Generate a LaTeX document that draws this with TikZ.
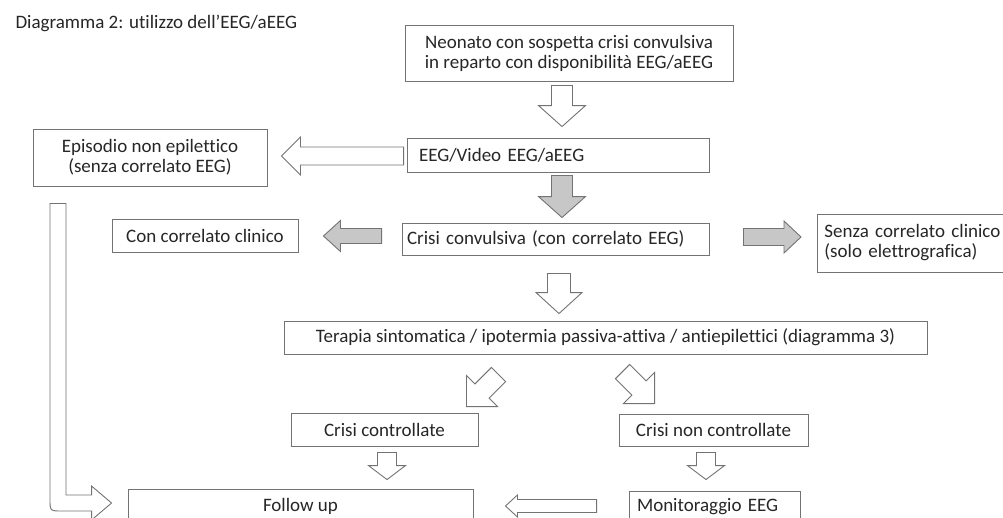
\documentclass[tikz,border=0pt]{standalone}
\usepackage{fontspec}
\setmainfont{Carlito}[Ligatures=NoCommon]
\usepackage{tikz}
\usetikzlibrary{calc,positioning}

% block arrow: style, from, to, half shaft, half head, head length
\newcommand{\blockarrow}[6]{%
  \coordinate (hb) at ($(#3)!#6!(#2)$);
  \draw [arrowline,#1] ($(#2)!#4!90:(#3)$) -- ($(hb)!#4!90:(#3)$) -- ($(hb)!#5!90:(#3)$)
    -- (#3) -- ($(hb)!#5!-90:(#3)$) -- ($(hb)!#4!-90:(#3)$) -- ($(#2)!#4!-90:(#3)$) -- cycle;
}

\begin{document}
\begin{tikzpicture}[x=1pt,y=-1pt,
  every node/.style={font=\fontsize{19}{20}\selectfont, text=black!85},
  box/.style={draw=black!55, line width=0.9pt, inner sep=0pt, align=center},
  arrowline/.style={draw=black!55, line width=0.9pt, line join=miter, fill=white},
  grayfill/.style={fill=black!22}]
\useasboundingbox (0,0) rectangle (1003,517);
\clip (0,0) rectangle (1003,517);
\node [anchor=base west] (title) at (12,28) {Diagramma 2: utilizzo dell’EEG/aEEG};
\node [box, minimum width=328, minimum height=56] (neonato) at (569,53)
  {Neonato con sospetta crisi convulsiva\\in reparto con disponibilità EEG/aEEG};
\node [box, minimum height=34, text width=278, inner xsep=12, align=left] (eeg) at (558,155) {EEG/Video EEG/aEEG};
\node [box, minimum width=234, minimum height=57] (episodio) at (150,157.5)
  {Episodio non epilettico\\(senza correlato EEG)};
\node [box, minimum height=32, text width=297, inner xsep=5, align=left] (crisi) at (555.5,239)
  {Crisi convulsiva (con correlato EEG)};
\node [box, minimum width=186, minimum height=33] (concor) at (205,235.5) {Con correlato clinico};
\node [box, minimum height=58, text width=200, inner xsep=7, align=left, anchor=west] (senza) at (817,243)
  {Senza correlato clinico\\(solo elettrografica)};
\node [box, minimum width=643, minimum height=33] (terapia) at (605.5,337.5)
  {Terapia sintomatica / ipotermia passiva-attiva / antiepilettici (diagramma 3)};
\node [box, minimum width=187, minimum height=33] (ctrl) at (384.5,429.5) {Crisi controllate};
\node [box, minimum width=189, minimum height=32] (nonctrl) at (713.5,430) {Crisi non controllate};
\node [box, minimum width=345, minimum height=34] (followup) at (300.5,506) {Follow up};
\node [box, minimum height=32, text width=155, inner xsep=8, align=left] (monitor) at (714.5,507) {Monitoraggio EEG};

\blockarrow{}{$(neonato.south)+(-7,4)$}{$(eeg.north)+(4,-11)$}{10.5pt}{23.5pt}{21pt}
\blockarrow{}{$(eeg.west)+(-3,1)$}{$(episodio.east)+(14,-1.5)$}{9pt}{19pt}{19pt}
\blockarrow{grayfill}{$(eeg.south)+(4,3)$}{$(crisi.north)+(6.5,-5)$}{10.5pt}{23.5pt}{21pt}
\blockarrow{grayfill}{$(crisi.west)+(-20,-3)$}{$(concor.east)+(25,0.5)$}{7.5pt}{15.5pt}{17pt}
\blockarrow{grayfill}{$(crisi.east)+(34,-2)$}{$(senza.west)+(-16,-6)$}{8.5pt}{16pt}{17pt}
\blockarrow{}{$(crisi.south)+(3.5,18)$}{$(terapia.north)+(-46.5,-7)$}{11.5pt}{23pt}{21pt}
\blockarrow{}{$(ctrl.north east)+(20,-38)$}{$(ctrl.north east)+(-12,-6)$}{10pt}{22pt}{22pt}
\blockarrow{}{$(nonctrl.north west)+(4,-42)$}{$(nonctrl.north west)+(36,-10)$}{10pt}{22pt}{22pt}
\blockarrow{}{$(ctrl.south)+(2.5,6)$}{$(followup.north)+(86.5,-9)$}{9.5pt}{18.5pt}{14pt}
\blockarrow{}{$(nonctrl.south)+(-7.5,6)$}{$(monitor.north)+(-8.5,-11)$}{9.5pt}{18.5pt}{14pt}
\blockarrow{}{$(monitor.west)+(-32,-1)$}{$(followup.east)+(32,0)$}{6.5pt}{11pt}{12pt}

% bent arrow from episodio to follow up
\coordinate (p) at ($(episodio.south)+(-92,17)$);
\coordinate (q) at ($(followup.west)+(-16,-3)$);
\draw [arrowline] ($(p)+(-8,0)$) -- ($(p)+(8,0)$) -- ($(p |- q)+(8,-8)$) -- ($(q)+(-20,-8)$)
  -- ($(q)+(-20,-17)$) -- (q) -- ($(q)+(-20,17)$) -- ($(q)+(-20,8)$) -- ($(p |- q)+(4,8)$)
  .. controls ($(p |- q)+(-8,8)$) .. ($(p |- q)+(-8,-4)$) -- cycle;
\end{tikzpicture}
\end{document}
